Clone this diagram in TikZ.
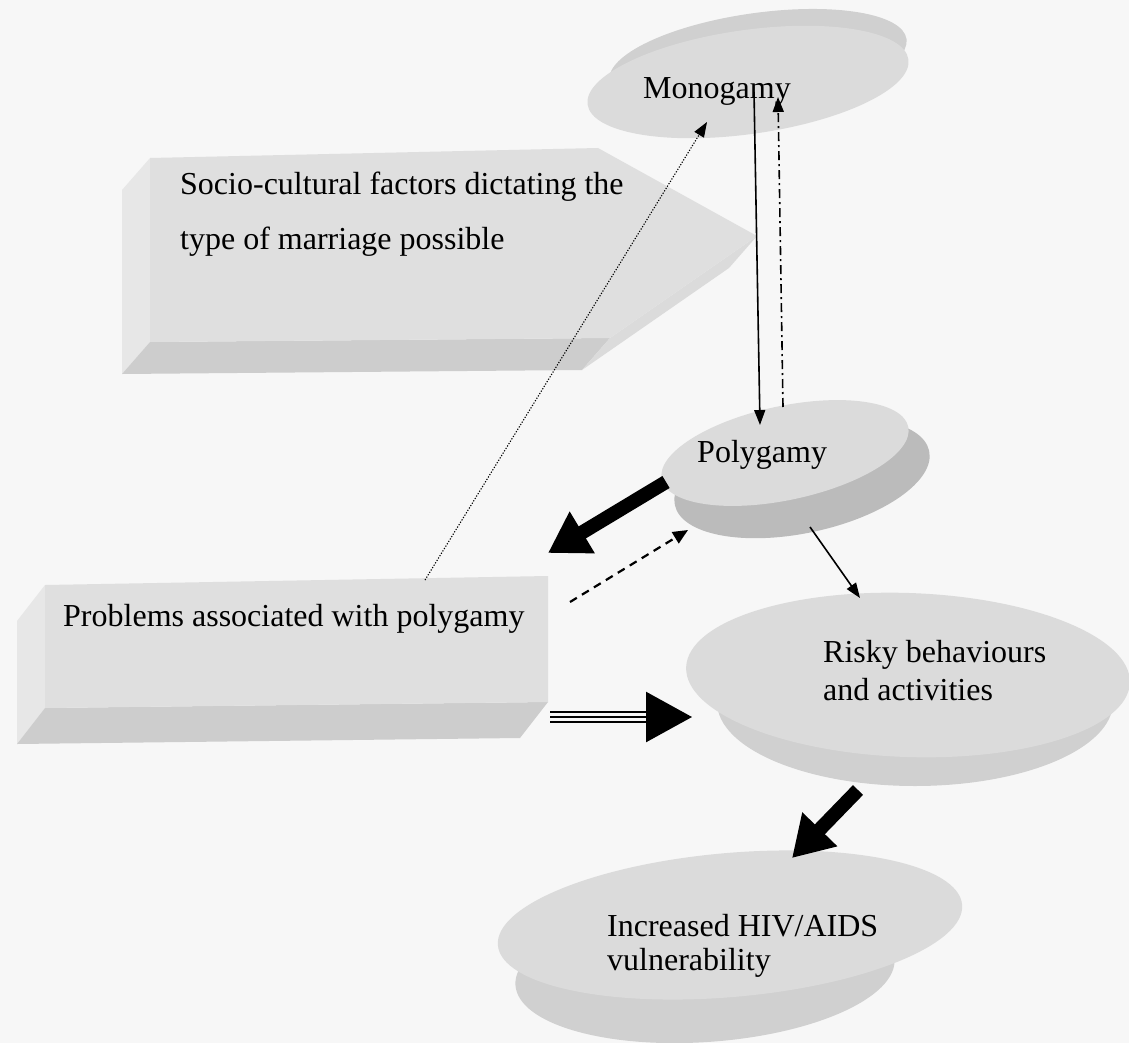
\documentclass[tikz,border=0pt]{standalone}
\usepackage{fontspec}
\setmainfont{Liberation Serif}
\usetikzlibrary{arrows.meta}
\definecolor{paperC}{HTML}{F7F7F7}
\definecolor{faceC}{HTML}{DBDBDB}
\definecolor{sideC}{HTML}{D0D0D0}
\definecolor{lightC}{HTML}{E7E7E7}
\definecolor{frontC}{HTML}{DFDFDF}
\definecolor{lowC}{HTML}{CDCDCD}
\begin{document}
\begin{tikzpicture}[x=1pt,y=-1pt,
  lbl/.style={font=\fontsize{32}{38}\selectfont, inner sep=0pt, anchor=base west, align=left},
  thinarrow/.style={line width=1.6pt, -{Triangle[length=15pt,width=11pt]}},
  blockarrow/.style={line width=14pt, -{Triangle[length=40pt,width=46pt]}},
]
\useasboundingbox (0,0) rectangle (1129,1043);
\fill[paperC] (0,0) rectangle (1129,1043);

% --- Monogamy disc
\fill[sideC, shift={(758,60)}, rotate=8] (0,0) ellipse [x radius=150pt, y radius=47pt];
\fill[faceC, shift={(748,82)}, rotate=8] (0,0) ellipse [x radius=162pt, y radius=52pt];

% --- Socio-cultural prism (pentagon arrow)
\fill[lightC] (150,158) -- (122,190) -- (122,374) -- (150,342) -- cycle;
\fill[lowC] (150,342) -- (610,338) -- (582,370) -- (122,374) -- cycle;
\fill[faceC] (757,236) -- (610,338) -- (582,370) -- (729,268) -- cycle;
\fill[frontC] (150,158) -- (598,148) -- (757,236) -- (610,338) -- (150,342) -- cycle;

% --- Polygamy disc
\fill[sideC!90!black, shift={(802,478)}, rotate=12] (0,0) ellipse [x radius=130pt, y radius=55pt];
\fill[faceC, shift={(785,453)}, rotate=12] (0,0) ellipse [x radius=126pt, y radius=47pt];

% --- Problems prism
\fill[lightC] (45,585) -- (17,621) -- (17,744) -- (45,708) -- cycle;
\fill[lowC] (45,708) -- (548,702) -- (520,738) -- (17,744) -- cycle;
\fill[frontC] (45,585) -- (548,576) -- (548,702) -- (45,708) -- cycle;

% --- Risky disc
\fill[sideC] (915,702) ellipse [x radius=198pt, y radius=84pt];
\fill[faceC, shift={(908,675)}, rotate=-2] (0,0) ellipse [x radius=222pt, y radius=82pt];

% --- HIV disc
\fill[sideC, shift={(705,972)}, rotate=4] (0,0) ellipse [x radius=190pt, y radius=70pt];
\fill[faceC, shift={(730,925)}, rotate=5] (0,0) ellipse [x radius=233pt, y radius=72pt];

% --- labels (anchored at the baseline of the last line)
\node[lbl] (mono) at (643,99) {Monogamy};
\node[lbl, font=\fontsize{32}{55}\selectfont] (socio) at (180,249) {Socio-cultural factors dictating the\\type of marriage possible};
\node[lbl] (poly) at (697,462) {Polygamy};
\node[lbl] (prob) at (63,626) {Problems associated with polygamy};
\node[lbl] (risky) at (823,700) {Risky behaviours\\and activities};
\node[lbl, font=\fontsize{32}{34}\selectfont] (hiv) at (607,970) {Increased HIV/AIDS\\vulnerability};

% --- connector end points
\coordinate (monoOut) at (754,92);
\coordinate (polyIn) at (760,425);
\coordinate (polyOut) at (783,407);
\coordinate (monoIn) at (778,97);
\coordinate (probTop) at (425,580);
\coordinate (monoLeft) at (707,122);
\coordinate (polyLeft) at (666,482);
\coordinate (probHead) at (548,553);
\coordinate (probCorner) at (570,602);
\coordinate (polyLow) at (688,530);
\coordinate (polyBottom) at (810,527);
\coordinate (riskyTop) at (860,598);
\coordinate (probRight) at (550,717);
\coordinate (riskyLeft) at (692,717);
\coordinate (riskyBottom) at (858,790);
\coordinate (hivTop) at (792,858);

% --- connectors
\draw[thinarrow] (monoOut) -- (polyIn);
\draw[thinarrow, dash pattern=on 9pt off 4pt on 2pt off 4pt] (polyOut) -- (monoIn);
\draw[line width=1.1pt, dash pattern=on 1.2pt off 1.6pt, -{Triangle[length=15pt,width=11pt]}] (probTop) -- (monoLeft);
\draw[blockarrow] (polyLeft) -- (probHead);
\draw[line width=2.2pt, dash pattern=on 8pt off 6pt, -{Triangle[length=15pt,width=13pt]}] (probCorner) -- (polyLow);
\draw[thinarrow] (polyBottom) -- (riskyTop);
\draw[line width=2.6pt, -{Triangle[length=46pt,width=50pt]}] (probRight) -- (riskyLeft);
\draw[line width=2.6pt] ([yshift=5pt]probRight) -- ([yshift=5pt,xshift=-44pt]riskyLeft);
\draw[line width=2.6pt] ([yshift=-5pt]probRight) -- ([yshift=-5pt,xshift=-44pt]riskyLeft);
\draw[blockarrow] (riskyBottom) -- (hivTop);
\end{tikzpicture}
\end{document}
